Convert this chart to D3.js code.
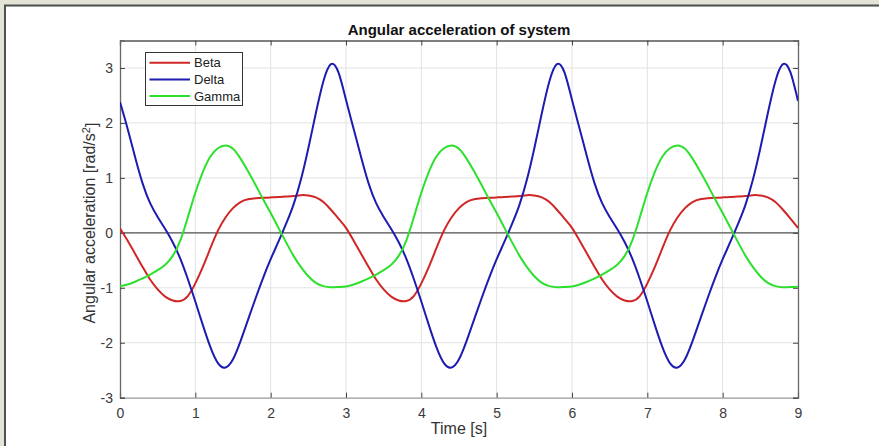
<!DOCTYPE html>
<html>
<head>
<meta charset="utf-8">
<script src="https://cdn.jsdelivr.net/npm/d3@7"></script>
<style>
  html, body { margin: 0; padding: 0; background: #e3e3d6; }
  svg { display: block; }
</style>
</head>
<body>
<svg id="chart" width="879" height="446"></svg>
<script>
const seriesNames = ["Beta", "Delta", "Gamma"];
const seriesColors = ["#d02626", "#1c1cb0", "#2ee02e"];
const xTicks = [0, 1, 2, 3, 4, 5, 6, 7, 8, 9];
const yTicks = [-3, -2, -1, 0, 1, 2, 3];
const timeStep = 0.1;

const beta = [
  0.08, -0.14, -0.38, -0.62, -0.85, -1.03, -1.16, -1.23, -1.24, -1.15,
  -0.92, -0.62, -0.28, 0.04, 0.28, 0.45, 0.56, 0.61, 0.63, 0.64,
  0.645, 0.65, 0.66, 0.67, 0.685, 0.68, 0.645, 0.56, 0.42, 0.26,
  0.09, -0.14, -0.38, -0.62, -0.85, -1.03, -1.16, -1.23, -1.24, -1.15,
  -0.92, -0.62, -0.28, 0.04, 0.28, 0.45, 0.56, 0.61, 0.63, 0.64,
  0.645, 0.65, 0.66, 0.67, 0.685, 0.68, 0.645, 0.56, 0.42, 0.26,
  0.09, -0.14, -0.38, -0.62, -0.85, -1.03, -1.16, -1.23, -1.24, -1.15,
  -0.92, -0.62, -0.28, 0.04, 0.28, 0.45, 0.56, 0.61, 0.63, 0.64,
  0.645, 0.65, 0.66, 0.67, 0.685, 0.68, 0.645, 0.56, 0.42, 0.26,
  0.09
];
const delta = [
  2.38, 1.90, 1.38, 0.90, 0.54, 0.29, 0.07, -0.17, -0.47, -0.84,
  -1.25, -1.68, -2.08, -2.37, -2.45, -2.30, -1.97, -1.58, -1.19, -0.82,
  -0.48, -0.17, 0.15, 0.50, 0.96, 1.54, 2.18, 2.76, 3.07, 2.92,
  2.42, 1.90, 1.38, 0.90, 0.54, 0.29, 0.07, -0.17, -0.47, -0.84,
  -1.25, -1.68, -2.08, -2.37, -2.45, -2.30, -1.97, -1.58, -1.19, -0.82,
  -0.48, -0.17, 0.15, 0.50, 0.96, 1.54, 2.18, 2.76, 3.07, 2.92,
  2.42, 1.90, 1.38, 0.90, 0.54, 0.29, 0.07, -0.17, -0.47, -0.84,
  -1.25, -1.68, -2.08, -2.37, -2.45, -2.30, -1.97, -1.58, -1.19, -0.82,
  -0.48, -0.17, 0.15, 0.50, 0.96, 1.54, 2.18, 2.76, 3.07, 2.92,
  2.40
];
const gamma = [
  -0.97, -0.94, -0.89, -0.83, -0.76, -0.68, -0.58, -0.42, -0.14, 0.28,
  0.73, 1.11, 1.39, 1.54, 1.59, 1.53, 1.35, 1.12, 0.87, 0.61,
  0.36, 0.10, -0.16, -0.41, -0.62, -0.79, -0.91, -0.97, -0.99, -0.985,
  -0.975, -0.94, -0.89, -0.83, -0.76, -0.68, -0.58, -0.42, -0.14, 0.28,
  0.73, 1.11, 1.39, 1.54, 1.59, 1.53, 1.35, 1.12, 0.87, 0.61,
  0.36, 0.10, -0.16, -0.41, -0.62, -0.79, -0.91, -0.97, -0.99, -0.985,
  -0.975, -0.94, -0.89, -0.83, -0.76, -0.68, -0.58, -0.42, -0.14, 0.28,
  0.73, 1.11, 1.39, 1.54, 1.59, 1.53, 1.35, 1.12, 0.87, 0.61,
  0.36, 0.10, -0.16, -0.41, -0.62, -0.79, -0.91, -0.97, -0.99, -0.985,
  -0.98
];
const allSeries = [beta, delta, gamma];

// ---- layout ----
const W = 879, H = 446;
const plot = { left: 120, right: 798, top: 40.5, bottom: 397.7 };
const svg = d3.select("#chart");
const font = "'Liberation Sans', Arial, Helvetica, sans-serif";

// figure frame
svg.append("rect").attr("x", 0).attr("y", 0).attr("width", W).attr("height", H).attr("fill", "#e3e3d6");
svg.append("rect").attr("x", 6).attr("y", 6.5).attr("width", W - 6).attr("height", H - 6.5).attr("fill", "#ffffff");
svg.append("line").attr("x1", 4).attr("x2", W).attr("y1", 5.5).attr("y2", 5.5).attr("stroke", "#4a5350").attr("stroke-width", 2);
svg.append("line").attr("x1", 5).attr("x2", 5).attr("y1", 5).attr("y2", H).attr("stroke", "#4a5350").attr("stroke-width", 2);

const x = d3.scaleLinear().domain([0, 9]).range([plot.left, plot.right]);
const y = d3.scaleLinear().domain([-3, 3.5]).range([plot.bottom, plot.top]);

const g = svg.append("g");

// grid
g.append("g").selectAll("line").data(xTicks.slice(1, -1)).join("line")
  .attr("x1", d => x(d)).attr("x2", d => x(d))
  .attr("y1", plot.top).attr("y2", plot.bottom)
  .attr("stroke", "#e2e2e2").attr("stroke-width", 1);
g.append("g").selectAll("line").data(yTicks.slice(1)).join("line")
  .attr("x1", plot.left).attr("x2", plot.right)
  .attr("y1", d => y(d)).attr("y2", d => y(d))
  .attr("stroke", "#e2e2e2").attr("stroke-width", 1);

// zero line
g.append("line")
  .attr("x1", plot.left).attr("x2", plot.right)
  .attr("y1", y(0)).attr("y2", y(0))
  .attr("stroke", "#555555").attr("stroke-width", 1.2);

// axes (MATLAB style: ticks inside, box on)
const tickLen = 5;
const axisBottom = d3.axisBottom(x).tickValues(xTicks).tickSize(-tickLen).tickPadding(10).tickFormat(d3.format("d"));
const axisTop = d3.axisTop(x).tickValues(xTicks).tickSize(-tickLen).tickFormat("");
const axisLeft = d3.axisLeft(y).tickValues(yTicks).tickSize(-tickLen).tickPadding(7).tickFormat(d3.format("d"));
const axisRight = d3.axisRight(y).tickValues(yTicks).tickSize(-tickLen).tickFormat("");

function styleAxis(sel, color) {
  sel.select(".domain").attr("stroke", color).attr("stroke-width", 1.3);
  sel.selectAll(".tick line").attr("stroke", "#444").attr("stroke-width", 1);
  sel.selectAll(".tick text").attr("fill", "#3a3a3a").style("font-family", font).style("font-size", "14px");
}

const gb = g.append("g").attr("transform", `translate(0,${plot.bottom})`).call(axisBottom);
styleAxis(gb, "#9a9a9a");
gb.selectAll(".tick text").attr("dy", "0.71em");
const gt = g.append("g").attr("transform", `translate(0,${plot.top})`).call(axisTop);
styleAxis(gt, "#555");
const gl = g.append("g").attr("transform", `translate(${plot.left},0)`).call(axisLeft);
styleAxis(gl, "#666");
gl.selectAll(".tick text").text(d => d < 0 ? "-" + Math.abs(d) : d);
const gr = g.append("g").attr("transform", `translate(${plot.right},0)`).call(axisRight);
styleAxis(gr, "#666");

// lines
const clipId = "plotclip";
svg.append("defs").append("clipPath").attr("id", clipId)
  .append("rect").attr("x", plot.left).attr("y", plot.top)
  .attr("width", plot.right - plot.left).attr("height", plot.bottom - plot.top);

const line = d3.line()
  .x((d, i) => x(i * timeStep))
  .y(d => y(d))
  .curve(d3.curveNatural);

const lines = svg.append("g").attr("clip-path", `url(#${clipId})`);
allSeries.forEach((s, i) => {
  lines.append("path").datum(s)
    .attr("d", line)
    .attr("fill", "none")
    .attr("stroke", seriesColors[i])
    .attr("stroke-width", 2)
    .attr("stroke-linejoin", "round");
});

// title
svg.append("text")
  .attr("x", (plot.left + plot.right) / 2).attr("y", 34.5)
  .attr("text-anchor", "middle")
  .style("font-family", font).style("font-size", "15px").style("font-weight", "bold")
  .attr("fill", "#111")
  .text("Angular acceleration of system");

// x label
svg.append("text")
  .attr("x", (plot.left + plot.right) / 2).attr("y", 434)
  .attr("text-anchor", "middle")
  .style("font-family", font).style("font-size", "16px")
  .attr("fill", "#333")
  .text("Time [s]");

// y label with superscript
const yl = svg.append("text")
  .attr("transform", `translate(95,${(plot.top + plot.bottom) / 2 + 4}) rotate(-90)`)
  .attr("text-anchor", "middle")
  .style("font-family", font).style("font-size", "16px")
  .attr("fill", "#333");
yl.append("tspan").text("Angular acceleration [rad/s");
yl.append("tspan").attr("dy", "-0.45em").style("font-size", "11px").text("2");
yl.append("tspan").attr("dy", "0.45em").text("]");

// legend
const leg = svg.append("g");
leg.append("rect")
  .attr("x", 145.5).attr("y", 52.5).attr("width", 97).attr("height", 53)
  .attr("fill", "#fff").attr("stroke", "#333").attr("stroke-width", 1);
seriesNames.forEach((name, i) => {
  const ly = 62.7 + i * 16.7;
  leg.append("line").attr("x1", 149.5).attr("x2", 190).attr("y1", ly).attr("y2", ly)
    .attr("stroke", seriesColors[i]).attr("stroke-width", 2);
  leg.append("text").attr("x", 194).attr("y", ly).attr("dy", "0.35em")
    .style("font-family", font).style("font-size", "13px").attr("fill", "#222")
    .text(name);
});
</script>
</body>
</html>
